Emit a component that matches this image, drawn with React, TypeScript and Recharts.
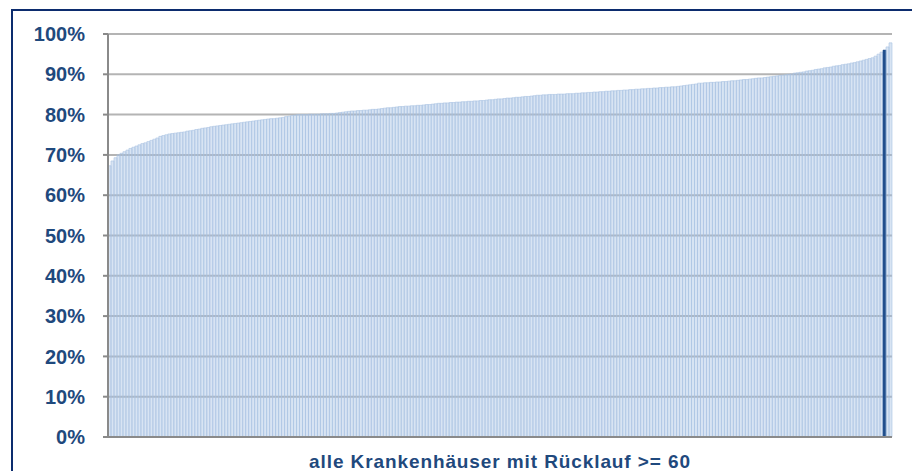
import { Bar, BarChart, CartesianGrid, Cell, XAxis, YAxis } from "recharts"

// Rücklauf-Quote je Krankenhaus, aufsteigend sortiert (in %)
const quoten: number[] = [
  67.3, 68.5, 69.3, 70.0, 70.4, 70.8, 71.2, 71.6, 71.9, 72.2,
  72.5, 72.8, 73.0, 73.3, 73.6, 73.9, 74.2, 74.6, 74.8, 75.0,
  75.2, 75.3, 75.4, 75.5, 75.6, 75.7, 75.9, 76.0, 76.1, 76.3,
  76.4, 76.6, 76.7, 76.8, 77.0, 77.1, 77.2, 77.3, 77.4, 77.5,
  77.6, 77.7, 77.8, 77.9, 78.0, 78.1, 78.2, 78.3, 78.4, 78.5,
  78.6, 78.7, 78.8, 78.9, 79.0, 79.0, 79.1, 79.2, 79.3, 79.5,
  79.6, 79.8, 79.9, 80.0, 80.0, 80.0, 80.0, 80.1, 80.1, 80.1,
  80.1, 80.2, 80.2, 80.2, 80.3, 80.3, 80.4, 80.5, 80.6, 80.7,
  80.8, 80.9, 80.9, 81.0, 81.0, 81.1, 81.1, 81.2, 81.3, 81.3,
  81.4, 81.5, 81.6, 81.7, 81.7, 81.8, 81.9, 82.0, 82.0, 82.1,
  82.1, 82.2, 82.2, 82.3, 82.3, 82.4, 82.5, 82.5, 82.6, 82.7,
  82.8, 82.8, 82.9, 82.9, 83.0, 83.0, 83.1, 83.1, 83.2, 83.2,
  83.3, 83.3, 83.4, 83.4, 83.5, 83.5, 83.6, 83.7, 83.7, 83.8,
  83.9, 83.9, 84.0, 84.1, 84.1, 84.2, 84.3, 84.3, 84.4, 84.5,
  84.5, 84.6, 84.7, 84.8, 84.8, 84.9, 84.9, 85.0, 85.0, 85.0,
  85.1, 85.1, 85.1, 85.2, 85.2, 85.2, 85.3, 85.3, 85.4, 85.4,
  85.5, 85.5, 85.6, 85.6, 85.7, 85.7, 85.8, 85.8, 85.9, 85.9,
  86.0, 86.0, 86.1, 86.1, 86.2, 86.2, 86.3, 86.3, 86.4, 86.4,
  86.5, 86.5, 86.6, 86.6, 86.7, 86.7, 86.8, 86.8, 86.9, 86.9,
  87.0, 87.1, 87.2, 87.3, 87.4, 87.5, 87.6, 87.8, 87.8, 87.9,
  87.9, 88.0, 88.0, 88.1, 88.1, 88.2, 88.2, 88.3, 88.4, 88.4,
  88.5, 88.6, 88.7, 88.7, 88.8, 88.9, 89.0, 89.1, 89.1, 89.2,
  89.3, 89.4, 89.5, 89.6, 89.7, 89.8, 89.9, 90.0, 90.1, 90.3,
  90.4, 90.5, 90.6, 90.8, 90.9, 91.0, 91.2, 91.3, 91.4, 91.6,
  91.7, 91.8, 92.0, 92.1, 92.2, 92.4, 92.5, 92.6, 92.8, 92.9,
  93.1, 93.3, 93.5, 93.7, 93.9, 94.1, 94.5, 95.0, 95.5, 96.0,
  96.8, 97.8,
]

// das hervorgehobene Haus
const eigenesHaus = 259

const yTicks = [0, 10, 20, 30, 40, 50, 60, 70, 80, 90, 100]

const xTitel = "alle Krankenhäuser mit Rücklauf >= 60"

const navy = "#1f497d"
const font = "Liberation Sans, Arial, sans-serif"

export default function App() {
  const chartData = quoten.map((q, i) => ({ id: i + 1, quote: q }))

  return (
    <div style={{ position: "fixed", left: 0, top: 0, width: 912, height: 471, background: "#fff", overflow: "hidden" }}>
      <div
        style={{
          position: "absolute",
          left: 11,
          top: 9,
          width: 940,
          height: 500,
          border: "2px solid #0c2c6e",
          boxSizing: "border-box",
        }}
      />
      <div style={{ position: "absolute", left: 0, top: 0 }}>
        <BarChart
          width={912}
          height={471}
          data={chartData}
          margin={{ top: 34, right: 20, bottom: 0, left: 0 }}
          barCategoryGap={0}
          barGap={0}
        >
          <CartesianGrid horizontal vertical={false} stroke="#b4b4b4" strokeWidth={2} />
          <XAxis
            dataKey="id"
            tick={false}
            tickLine={false}
            axisLine={{ stroke: "#8a8a8a", strokeWidth: 2 }}
            height={34}
            label={{
              value: xTitel,
              position: "insideBottom",
              offset: 3,
              fill: navy,
              fontSize: 19,
              fontWeight: "bold",
              fontFamily: font,
              letterSpacing: 0.9,
            }}
          />
          <YAxis
            domain={[0, 100]}
            ticks={yTicks}
            interval={0}
            width={108}
            tickFormatter={(v) => `${v}%`}
            tickSize={5}
            tickMargin={18}
            tickLine={{ stroke: "#8a8a8a", strokeWidth: 2 }}
            axisLine={{ stroke: "#8a8a8a", strokeWidth: 2 }}
            tick={{ fill: navy, fontSize: 20, fontWeight: "bold", fontFamily: font }}
          />
          <Bar dataKey="quote" isAnimationActive={false} stroke="#a9c2e2" strokeWidth={0.6}>
            {chartData.map((entry, index) => (
              <Cell
                key={`cell-${index}`}
                fill={index === eigenesHaus ? "#1f4e8c" : "#9dbbe0"}
                fillOpacity={index === eigenesHaus ? 1 : 0.4}
                stroke={index === eigenesHaus ? "#1f4e8c" : "#a9c2e2"}
              />
            ))}
          </Bar>
        </BarChart>
      </div>
    </div>
  )
}
